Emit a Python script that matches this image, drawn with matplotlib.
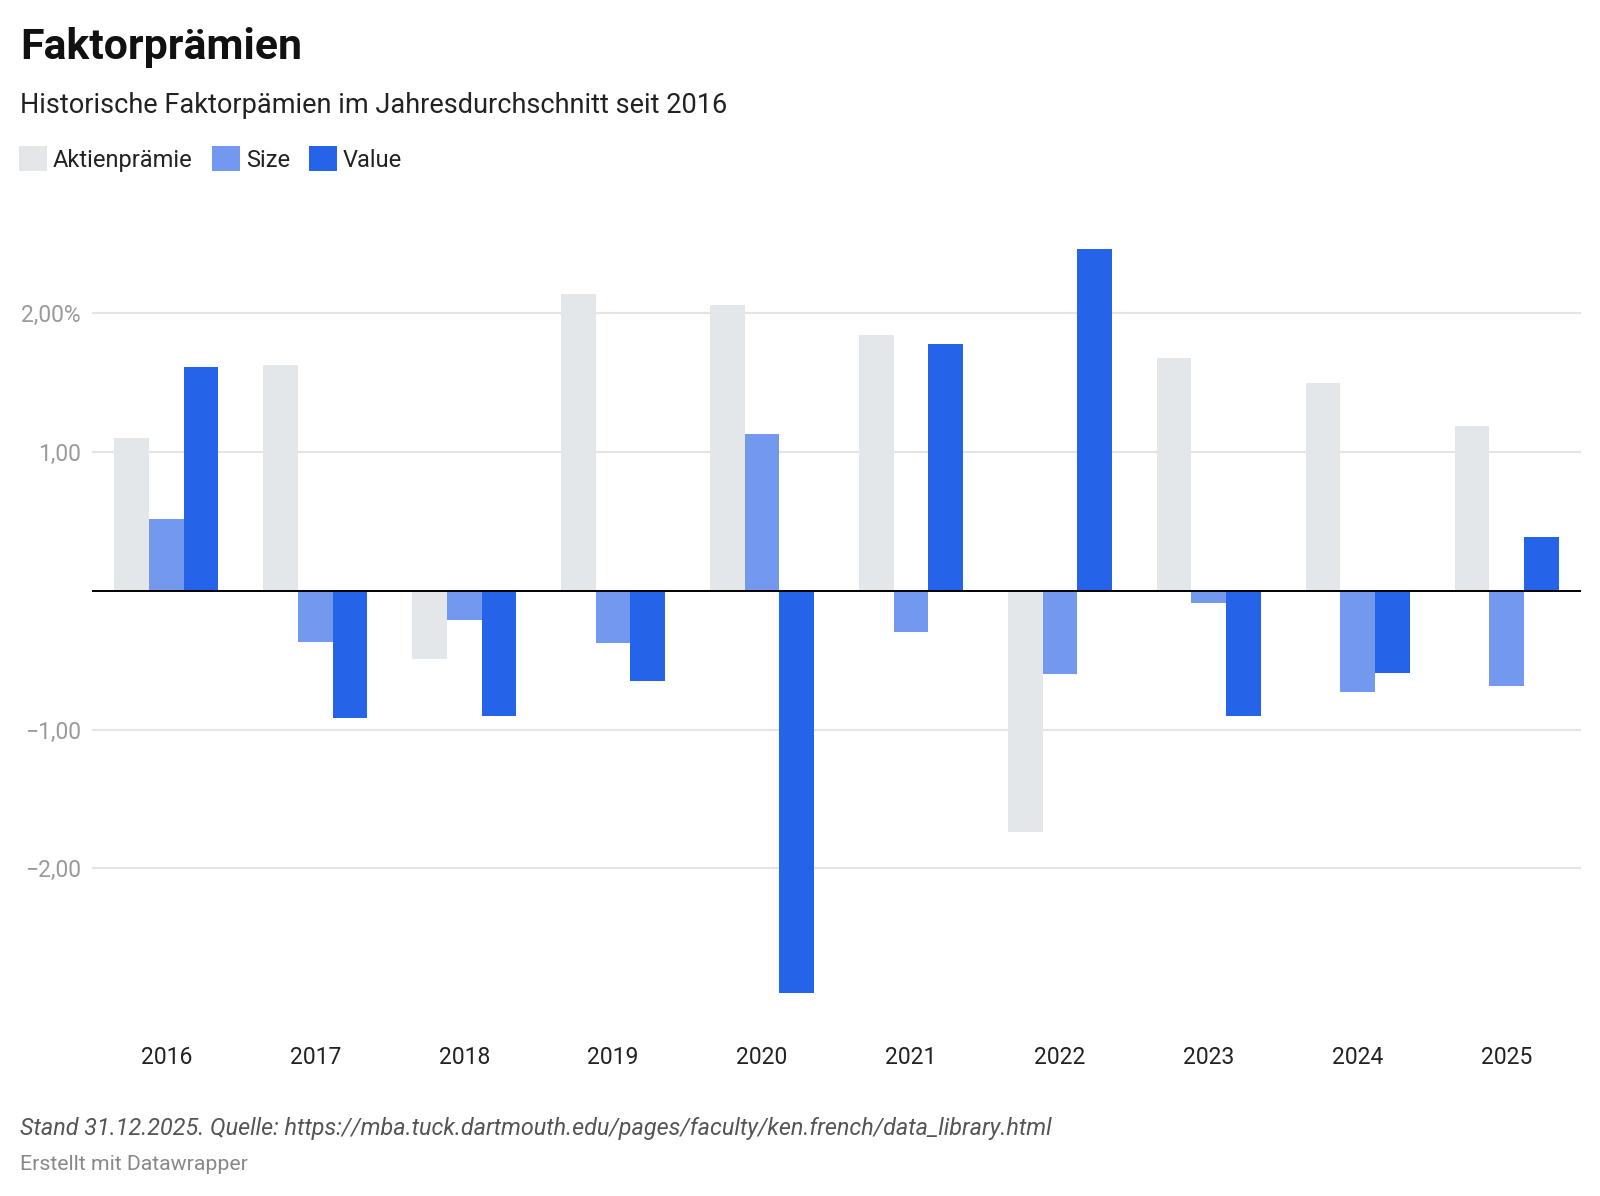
import numpy as np
import matplotlib
matplotlib.use("Agg")
from matplotlib import pyplot as plt

plt.rcParams['font.family'] = ['Roboto', 'DejaVu Sans']

# values (percent, yearly average)
years = ['2016', '2017', '2018', '2019', '2020', '2021', '2022', '2023', '2024', '2025']
aktienpraemie = [1.10, 1.63, -0.49, 2.14, 2.06, 1.84, -1.74, 1.68, 1.50, 1.19]
size = [0.52, -0.37, -0.21, -0.38, 1.13, -0.30, -0.60, -0.09, -0.73, -0.69]
value = [1.61, -0.92, -0.90, -0.65, -2.90, 1.78, 2.46, -0.90, -0.59, 0.39]

series_names = ['Aktienprämie', 'Size', 'Value']
colors = ['#e3e7ea', '#7399ef', '#2563e8']

y_ticks = [-2, -1, 1, 2]
y_labels = ['\u22122,00', '\u22121,00', '1,00', '2,00%']

W, H = 1600, 1196
fig = plt.figure(figsize=(W / 100, H / 100), dpi=100)

# plot area in pixels: left 92, right 1581, top 230, bottom 1007
ax = fig.add_axes([92 / W, 1 - 1007 / H, (1581 - 92) / W, (1007 - 230) / H])

x = np.arange(len(years))
bw = 0.233
handles = []
for k, (vals, name, col) in enumerate(zip([aktienpraemie, size, value], series_names, colors)):
    b = ax.bar(x + (k - 1) * bw, vals, width=bw, color=col, label=name, zorder=3)
    handles.append(b)

ax.axhline(0, color='black', lw=1.4, zorder=4)
ax.set_xlim(-0.5, 9.5)
ax.set_ylim(-3.0, 2.6)
ax.set_yticks(y_ticks)
ax.set_yticklabels(y_labels)
ax.set_xticks(x)
ax.set_xticklabels(years)
ax.grid(axis='y', color='#e4e4e4', lw=1.6, zorder=0)
for s in ax.spines.values():
    s.set_visible(False)
ax.tick_params(axis='y', length=0, pad=8, labelsize=16.5, labelcolor='#9a9a9a')
ax.tick_params(axis='x', length=0, pad=28, labelsize=16.5, labelcolor='#222222')

# header
fig.text(20 / W, 1 - 59 / H, 'Faktorprämien', fontsize=30.8, fontweight='bold',
         color='#111111', va='baseline', ha='left')
fig.text(20 / W, 1 - 113 / H, 'Historische Faktorpämien im Jahresdurchschnitt seit 2016',
         fontsize=19.5, color='#222222', va='baseline', ha='left')

leg = fig.legend(handles=handles, labels=series_names, loc='center left',
                 bbox_to_anchor=(19 / W, 1 - 159 / H), ncol=3, frameon=False,
                 fontsize=17, handlelength=1.18, handleheight=1.2,
                 handletextpad=0.26, columnspacing=0.8, borderaxespad=0, borderpad=0)
for t in leg.get_texts():
    t.set_color('#222222')

# footer
fig.text(20 / W, 1 - 1128 / H,
         'Stand 31.12.2025. Quelle: https://mba.tuck.dartmouth.edu/pages/faculty/ken.french/data_library.html',
         fontsize=16.8, style='italic', color='#555555', va='center', ha='left')
fig.text(20 / W, 1 - 1164 / H, 'Erstellt mit Datawrapper',
         fontsize=15.3, color='#888888', va='center', ha='left')

fig.savefig('out.png', dpi=100, facecolor='white')
